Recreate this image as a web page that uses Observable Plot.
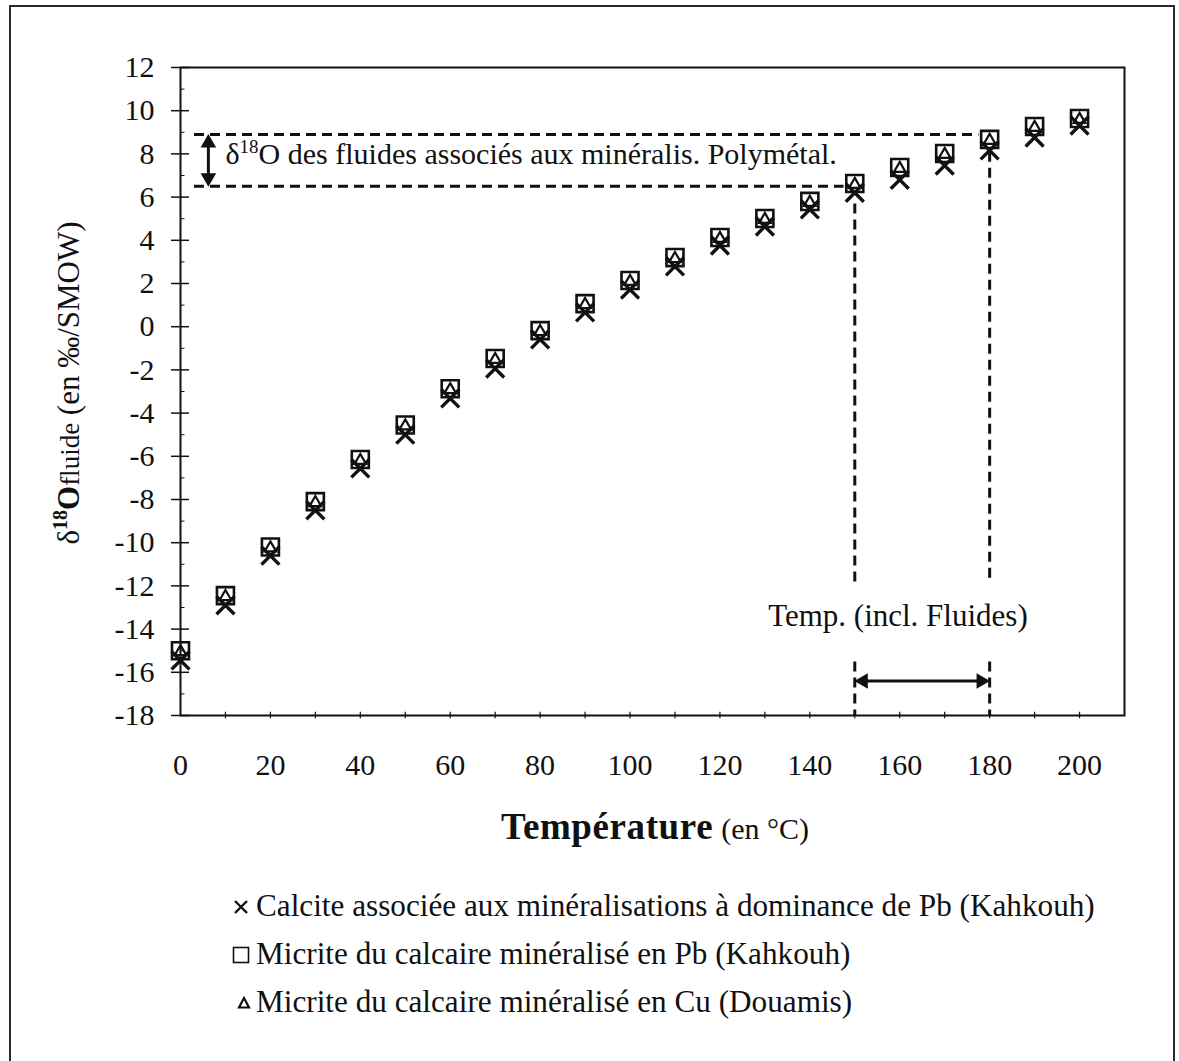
<!DOCTYPE html>
<html>
<head>
<meta charset="utf-8">
<script src="https://cdn.jsdelivr.net/npm/d3@7"></script>
<script src="https://cdn.jsdelivr.net/npm/@observablehq/plot@0.6"></script>
<style>
  html, body { margin: 0; padding: 0; background: #fff; overflow: hidden; }
  #page { position: relative; width: 1179px; height: 1061px; font-family: "Liberation Serif", "Times New Roman", serif; color: #111; }
  #border { position: absolute; left: 9px; top: 5px; width: 1162px; height: 1100px; border: 2px solid #2a2a2a; border-bottom: none; }
  #chart { position: absolute; left: 0; top: 0; }
  #ylabel { position: absolute; left: 68px; top: 383px; transform: translate(-50%, -50%) rotate(-90deg); white-space: nowrap; font-size: 31px; line-height: 1; }
  #ylabel .sup { font-size: 20px; font-weight: bold; position: relative; top: -12px; }
  #ylabel .o { font-weight: bold; }
  #ylabel .sub { font-size: 27px; }
  #xlabel { position: absolute; left: 655px; top: 808px; transform: translateX(-50%); white-space: nowrap; line-height: 1; }
  #xlabel .main { font-weight: bold; font-size: 37px; letter-spacing: 0.6px; }
  #xlabel .unit { font-size: 30px; margin-left: 8px; }
  .lg-row { position: absolute; left: 256px; white-space: nowrap; font-size: 29px; line-height: 40px; }
  .lg-sym { position: absolute; }
</style>
</head>
<body>
<div id="page">
  <div id="border"></div>
  <div id="chart"></div>
  <div id="ylabel">δ<span class="sup">18</span><span class="o">O</span><span class="sub">fluide</span> (en ‰/SMOW)</div>
  <div id="xlabel"><span class="main">Température</span><span class="unit">(en °C)</span></div>
  <div id="legend"></div>
</div>
<script>
// ---- data ----
const temperature = [0, 10, 20, 30, 40, 50, 60, 70, 80, 90, 100, 110, 120, 130, 140, 150, 160, 170, 180, 190, 200];
const calcitePb  = [-15.45, -12.9, -10.6, -8.5, -6.56, -5.0, -3.32, -1.94, -0.59, 0.66, 1.72, 2.79, 3.76, 4.64, 5.43, 6.2, 6.8, 7.46, 8.16, 8.76, 9.31];
const micritePb  = [-15.0, -12.45, -10.2, -8.1, -6.15, -4.55, -2.87, -1.47, -0.18, 1.07, 2.14, 3.2, 4.13, 5.01, 5.8, 6.63, 7.37, 8.02, 8.67, 9.27, 9.64];
const micriteCu  = [-15.05, -12.5, -10.25, -8.15, -6.2, -4.6, -2.92, -1.52, -0.23, 1.02, 2.09, 3.15, 4.08, 4.96, 5.75, 6.58, 7.32, 7.97, 8.62, 9.22, 9.59];

const yTicks = [-18, -16, -14, -12, -10, -8, -6, -4, -2, 0, 2, 4, 6, 8, 10, 12];
const yMinorTicks = [-17, -15, -13, -11, -9, -7, -5, -3, -1, 1, 3, 5, 7, 9, 11];
const xTicks = [0, 20, 40, 60, 80, 100, 120, 140, 160, 180, 200];
const xMinorTicks = [10, 20, 30, 40, 50, 60, 70, 80, 90, 100, 110, 120, 130, 140, 150, 160, 170, 180, 190, 200];

const fluidRange = [6.5, 8.9];        // δ18O range of fluids (‰)
const inclusionTemps = [150, 180];    // fluid-inclusion temperatures (°C)

const fluidText = "δ18O des fluides associés aux minéralis. Polymétal.";
const tempText = "Temp. (incl. Fluides)";

const seriesNames = [
  "Calcite associée aux minéralisations à dominance de Pb (Kahkouh)",
  "Micrite du calcaire minéralisé en Pb (Kahkouh)",
  "Micrite du calcaire minéralisé en Cu (Douamis)"
];

// ---- build tables ----
const rows = temperature.map((t, i) => ({t, calcite: calcitePb[i], pb: micritePb[i], cu: micriteCu[i]}));
const bands = fluidRange.map((y, i) => ({y, t: inclusionTemps[i]}));
const ink = "#111";

const chart = Plot.plot({
  width: 1179,
  height: 800,
  marginLeft: 180,
  marginRight: 55,
  marginTop: 67,
  marginBottom: 85,
  x: {domain: [0, 210]},
  y: {domain: [-18, 12]},
  style: {fontFamily: "'Liberation Serif', 'Times New Roman', serif", fontSize: "30px", color: ink, background: "transparent", overflow: "visible"},
  marks: [
    Plot.axisY({ticks: yTicks, tickSize: 0, tickPadding: 26, tickFormat: d => String(d), label: null, fontSize: 30}),
    Plot.axisX({ticks: xTicks, tickSize: 0, tickPadding: 38, tickFormat: d => String(d), label: null, fontSize: 30}),
    Plot.ruleY(yTicks, {x1: -2, x2: 2, stroke: ink, strokeWidth: 1.5}),
    Plot.ruleY(yMinorTicks, {x1: 0, x2: 1, stroke: ink, strokeWidth: 1}),
    Plot.ruleX(xMinorTicks, {y1: -18.15, y2: -17.85, stroke: ink, strokeWidth: 1.2}),
    // dashed guides
    Plot.link(bands, {x1: 3, x2: d => d.t - 2.5, y1: "y", y2: "y", stroke: ink, strokeWidth: 3, strokeDasharray: "10,6"}),
    Plot.link(bands, {x1: "t", x2: "t", y1: d => d.y - 0.8, y2: -11.9, stroke: ink, strokeWidth: 3, strokeDasharray: "10,6"}),
    Plot.link(bands, {x1: "t", x2: "t", y1: -15.5, y2: -18, stroke: ink, strokeWidth: 3, strokeDasharray: "10,6"}),
    // vertical double arrow (fluid range)
    Plot.link([fluidRange], {x1: 6.2, x2: 6.2, y1: d => d[0] + 0.4, y2: d => d[1] - 0.4, stroke: ink, strokeWidth: 3}),
    Plot.dot([{y: fluidRange[1] - 0.4, rot: 0}, {y: fluidRange[0] + 0.4, rot: 180}], {x: 6.2, y: "y", rotate: "rot", symbol: "triangle", r: 5.8, fill: ink, stroke: "none"}),
    // horizontal double arrow (temperature range)
    Plot.link([inclusionTemps], {x1: d => d[0] + 1.9, x2: d => d[1] - 1.9, y1: -16.4, y2: -16.4, stroke: ink, strokeWidth: 3}),
    Plot.dot([{x: inclusionTemps[0] + 1.9, rot: -90}, {x: inclusionTemps[1] - 1.9, rot: 90}], {x: "x", y: -16.4, rotate: "rot", symbol: "triangle", r: 5.8, fill: ink, stroke: "none"}),
    // annotations
    Plot.text([fluidText], {x: 10, y: 8.0, text: d => d, textAnchor: "start", fontSize: 30, fill: ink}),
    Plot.text([tempText], {x: 159.6, y: -13.4, text: d => d, textAnchor: "middle", fontSize: 31, fill: ink}),
    // data
    Plot.dot(rows, {x: "t", y: "pb", symbol: "square", r: 9.6, fill: "none", stroke: ink, strokeWidth: 2.6}),
    Plot.dot(rows, {x: "t", y: "cu", symbol: "triangle", r: 4.3, fill: "none", stroke: ink, strokeWidth: 2.2}),
    Plot.dot(rows, {x: "t", y: "calcite", symbol: "times", r: 8.2, fill: "none", stroke: ink, strokeWidth: 3.4}),
    Plot.frame({stroke: ink, strokeWidth: 2})
  ]
});
document.getElementById("chart").appendChild(chart);

// superscript "18" in the fluid annotation
for (const el of chart.querySelectorAll("text")) {
  if (el.textContent === fluidText) {
    const rest = fluidText.slice(3);
    el.textContent = "";
    const ns = "http://www.w3.org/2000/svg";
    const a = document.createElementNS(ns, "tspan"); a.textContent = "δ"; el.appendChild(a);
    const b = document.createElementNS(ns, "tspan"); b.textContent = "18"; b.setAttribute("font-size", "19"); b.setAttribute("dy", "-11"); el.appendChild(b);
    const c = document.createElementNS(ns, "tspan"); c.textContent = rest; c.setAttribute("dy", "11"); el.appendChild(c);
  }
}

// legend
const legend = document.getElementById("legend");
const centers = [907, 955, 1003];
const symbolSvg = [
  '<svg width="20" height="20" viewBox="-10 -10 20 20"><path d="M-6,-6L6,6M6,-6L-6,6" stroke="#111" stroke-width="2.4" fill="none"/></svg>',
  '<svg width="20" height="20" viewBox="-10 -10 20 20"><rect x="-7.5" y="-7.5" width="15" height="15" stroke="#111" stroke-width="1.6" fill="none"/></svg>',
  '<svg width="20" height="20" viewBox="-10 -10 20 20"><path d="M0,-5L5,4.5L-5,4.5Z" stroke="#111" stroke-width="2.2" fill="none"/></svg>'
];
const rowEls = seriesNames.map((name, i) => {
  const s = document.createElement("div");
  s.className = "lg-sym";
  s.style.left = (i === 2 ? 234 : 231) + "px";
  s.style.top = (centers[i] - 10) + "px";
  s.innerHTML = symbolSvg[i];
  legend.appendChild(s);
  const r = document.createElement("div");
  r.className = "lg-row";
  r.style.top = (centers[i] - 21) + "px";
  r.textContent = name;
  legend.appendChild(r);
  return r;
});
// fit first row width to the reference (256 → 1095)
const w0 = rowEls[0].getBoundingClientRect().width;
const fs = 29 * 839 / w0;
rowEls.forEach(r => r.style.fontSize = fs.toFixed(2) + "px");
</script>
</body>
</html>
